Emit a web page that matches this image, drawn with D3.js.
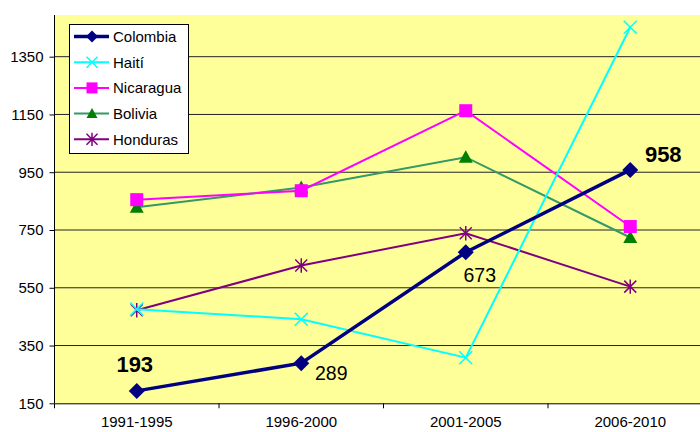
<!DOCTYPE html>
<html><head><meta charset="utf-8">
<script src="https://cdn.jsdelivr.net/npm/d3@7"></script>
<style>body{margin:0;background:#fff;}svg{display:block;font-family:"Liberation Sans",Arial,sans-serif;}</style>
</head><body><svg id="c" width="700" height="432"></svg>
<script>
const categories = ["1991-1995","1996-2000","2001-2005","2006-2010"];
const colombia  = [193, 289, 673, 958];
const haiti     = [476, 441, 308, 1452];
const nicaragua = [855, 886, 1163, 762];
const bolivia   = [829, 897, 1002, 724];
const honduras  = [472, 627, 739, 554];
const yTicks = [150, 350, 550, 750, 950, 1150, 1350];
const seriesNames = ["Colombia","Haití","Nicaragua","Bolivia","Honduras"];

(function(){
const FONT = "Liberation Sans, Arial, sans-serif";
const series = [
  {name: seriesNames[0], values: colombia, line: "#000080", fill: "#000080", w: 3.5, marker: "diamond"},
  {name: seriesNames[1], values: haiti, line: "#00FFFF", fill: "#00FFFF", w: 2, marker: "x"},
  {name: seriesNames[2], values: nicaragua, line: "#FF00FF", fill: "#FF00FF", w: 2, marker: "square"},
  {name: seriesNames[3], values: bolivia, line: "#339966", fill: "#008000", w: 2, marker: "triangle"},
  {name: seriesNames[4], values: honduras, line: "#800080", fill: "#800080", w: 2, marker: "star"}
];

const svg = d3.select("#c");
const pL = 54.5, pR = 712.5, pT = 15, pB = 403.3;
const x = d3.scaleBand().domain(categories).range([pL, pR]);
const y = d3.scaleLinear().domain([150, 1350]).range([pB, 56.7]);
const cx = c => x(c) + x.bandwidth()/2;

svg.append("rect").attr("x", pL).attr("y", pT).attr("width", pR-pL).attr("height", pB-pT).attr("fill", "#FFFF99");

// gridlines
svg.append("g").selectAll("line").data(yTicks.slice(1)).join("line")
  .attr("x1", pL).attr("x2", pR).attr("y1", d => y(d)).attr("y2", d => y(d))
  .attr("stroke", "#222").attr("stroke-width", 1);

// y axis
const ya = svg.append("g").attr("transform", `translate(${pL},0)`)
  .call(d3.axisLeft(y).tickValues(yTicks).tickSize(5).tickSizeOuter(0).tickFormat(d3.format("d")));
ya.select(".domain").remove();
ya.append("line").attr("x1",0).attr("x2",0).attr("y1",pT).attr("y2",pB).attr("stroke","#000");
ya.selectAll(".tick line").attr("stroke","#000");
ya.selectAll(".tick text").attr("x", -11).attr("fill","#000").style("font-size","15px").style("font-family",FONT);

// x axis
const xa = svg.append("g").attr("transform", `translate(0,${pB})`)
  .call(d3.axisBottom(x).tickSize(0).tickSizeOuter(0));
xa.select(".domain").attr("stroke","#000");
xa.selectAll(".tick text").attr("y", 13).attr("fill","#000").style("font-size","15px").style("font-family",FONT);
xa.selectAll(".tick line").remove();
xa.selectAll("line.sep").data(categories).join("line").attr("class","sep")
  .attr("x1", d => x(d)).attr("x2", d => x(d)).attr("y1",0).attr("y2",5).attr("stroke","#000");

function drawMarker(g, type, col, s) {
  if (type === "diamond") {
    g.append("path").attr("d", `M0,${-s}L${s},0L0,${s}L${-s},0Z`).attr("fill", col);
  } else if (type === "square") {
    g.append("rect").attr("x",-s).attr("y",-s).attr("width",2*s).attr("height",2*s).attr("fill",col);
  } else if (type === "triangle") {
    g.append("path").attr("d", `M0,${-s}L${s},${s*0.8}L${-s},${s*0.8}Z`).attr("fill", col);
  } else if (type === "x") {
    g.append("path").attr("d", `M${-s},${-s}L${s},${s}M${-s},${s}L${s},${-s}`).attr("stroke", col).attr("stroke-width",1.5);
  } else if (type === "star") {
    g.append("path").attr("d", `M${-s},${-s}L${s},${s}M${-s},${s}L${s},${-s}M0,${-s*1.2}L0,${s*1.2}`).attr("stroke", col).attr("stroke-width",1.5);
  }
}

const line = d3.line().x((d,i) => cx(categories[i])).y(d => y(d));
const sizes = {diamond: 8, square: 6.5, triangle: 7, x: 6.5, star: 6};
series.slice().reverse().forEach(s => {
  svg.append("path").datum(s.values).attr("d", line).attr("fill","none")
    .attr("stroke", s.line).attr("stroke-width", s.w).attr("stroke-linejoin","miter");
  s.values.forEach((v,i) => {
    const g = svg.append("g").attr("transform", `translate(${cx(categories[i])},${y(v)})`);
    drawMarker(g, s.marker, s.fill, sizes[s.marker]);
  });
});

// data labels (Colombia)
const labels = [
  {i:0, dx:-2, dy:-19, bold:true, size:22},
  {i:1, dx:30, dy:17, bold:false, size:19.5},
  {i:2, dx:14, dy:30, bold:false, size:19.5},
  {i:3, dx:33, dy:-8, bold:true, size:22}
];
labels.forEach(l => {
  svg.append("text").attr("x", cx(categories[l.i]) + l.dx).attr("y", y(colombia[l.i]) + l.dy)
    .attr("text-anchor","middle").attr("fill","#000")
    .style("font-size", l.size+"px").style("font-weight", l.bold?"bold":"normal").style("font-family",FONT)
    .text(colombia[l.i]);
});

// legend
const lg = svg.append("g");
lg.append("rect").attr("x",69.5).attr("y",24.5).attr("width",119).attr("height",129).attr("fill","#fff").attr("stroke","#000");
series.forEach((s,k) => {
  const yy = 36.5 + k*25.7;
  lg.append("line").attr("x1",74).attr("x2",109).attr("y1",yy).attr("y2",yy).attr("stroke",s.line).attr("stroke-width", s.w);
  const g = lg.append("g").attr("transform",`translate(92,${yy})`);
  drawMarker(g, s.marker, s.fill, s.marker==="diamond"?6:5.5);
  lg.append("text").attr("x",113).attr("y",yy+5.5).attr("fill","#000").style("font-size","15px").style("font-family",FONT).text(s.name);
});
})();
</script></body></html>
